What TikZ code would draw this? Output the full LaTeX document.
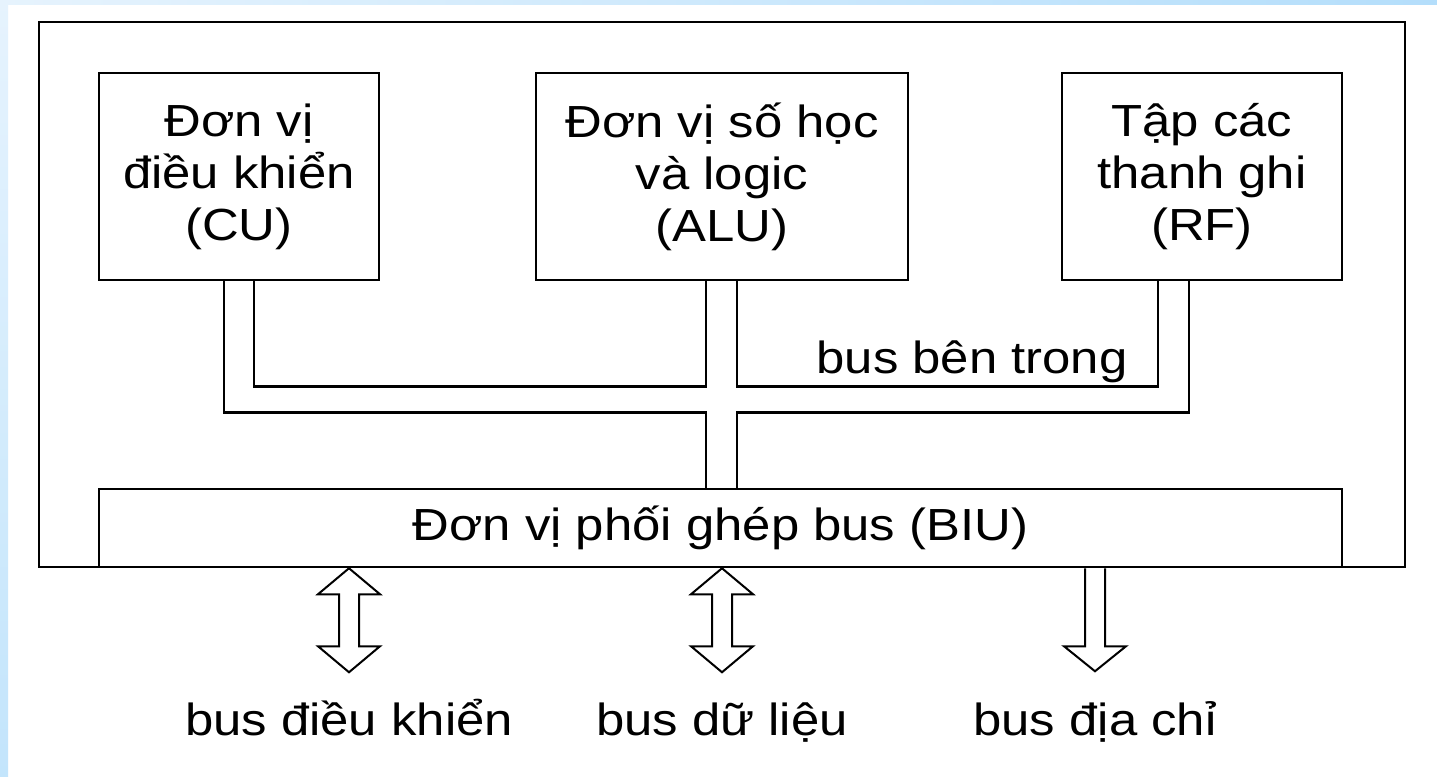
\documentclass[tikz,border=0pt]{standalone}
\usepackage{fontspec}
\setmainfont{Liberation Sans}[FakeStretch=1.13]
\usetikzlibrary{positioning, calc}

\definecolor{slideblue}{HTML}{B4DEFB}
\definecolor{slidepale}{HTML}{E6F3FD}

\tikzset{
  unit/.style={draw, line width=1.25pt, align=center, inner sep=0pt,
    minimum height=103.5pt, font=\fontsize{22.5}{26}\selectfont},
  buslabel/.style={anchor=base, inner sep=0pt, font=\fontsize{22.5}{26}\selectfont},
  bus/.style={line width=1.25pt},
  fatarrow/.style={draw, fill=white, line width=1pt, line join=miter}
}

\begin{document}
\begin{tikzpicture}[x=0.5pt, y=-0.5pt]

\useasboundingbox (0,0) rectangle (1437,777);
\fill[white] (0,0) rectangle (1437,777);
\shade[left color=slidepale, right color=slideblue] (0,0) rectangle (1437,4);
\shade[top color=slidepale, bottom color=slideblue!80] (0,0) rectangle (8,777);
%
\draw[bus] (39,22) rectangle (1405,567);

\node[unit, minimum width=140pt] (cu) at (239,176.5) {Đơn vị\\điều khiển\\(CU)};
\node[unit, minimum width=186pt] (alu) at (722,176.5) {Đơn vị số học\\và logic\\(ALU)};
\node[unit, minimum width=140pt] (rf) at (1202,176.5) {Tập các\\thanh ghi\\(RF)};
\node[unit, minimum width=621.5pt, minimum height=39pt] (biu) at (720.5,528) {Đơn vị phối ghép bus (BIU)};

% bus lines
\coordinate (cuA) at ($(cu.south)+(-15,0)$);
\coordinate (cuB) at ($(cu.south)+(15,0)$);
\coordinate (aluA) at ($(alu.south)+(-16,0)$);
\coordinate (aluB) at ($(alu.south)+(15,0)$);
\coordinate (rfA) at ($(rf.south)+(-44,0)$);
\coordinate (rfB) at ($(rf.south)+(-13,0)$);

\draw[bus] (cuB) -- ++(0,105) -| (aluA);
\draw[bus] (aluB) -- ++(0,105) -| (rfA);
\draw[bus] (cuA) -- ++(0,131) -| (aluA |- biu.north);
\draw[bus] (rfB) -- ++(0,131) -| (aluB |- biu.north);

\node[anchor=base east, inner sep=0pt, font=\fontsize{22.5}{26}\selectfont] (inner) at (1128,373) {bus bên trong};

% external buses
\node[buslabel] (ctl) at (349,735) {bus điều khiển};
\node[buslabel] (dat) at (722,735) {bus dữ liệu};
\node[buslabel] (adr) at (1095,735) {bus địa chỉ};

\foreach \b in {ctl,dat}
  \draw[fatarrow] (\b |- biu.south) -- ++(-31,26) -- ++(21,0) -- ++(0,52) -- ++(-21,0)
    -- ++(31,26) -- ++(31,-26) -- ++(-21,0) -- ++(0,-52) -- ++(21,0) -- cycle;

\fill[white] ($(adr |- biu.south)+(-10,1.5)$) rectangle ++(20,78);
\draw[fatarrow] ($(adr |- biu.south)+(-10,0)$) -- ++(0,78) -- ++(-21,0) -- ++(31,25)
  -- ++(31,-25) -- ++(-21,0) -- ++(0,-78);

\end{tikzpicture}
\end{document}
